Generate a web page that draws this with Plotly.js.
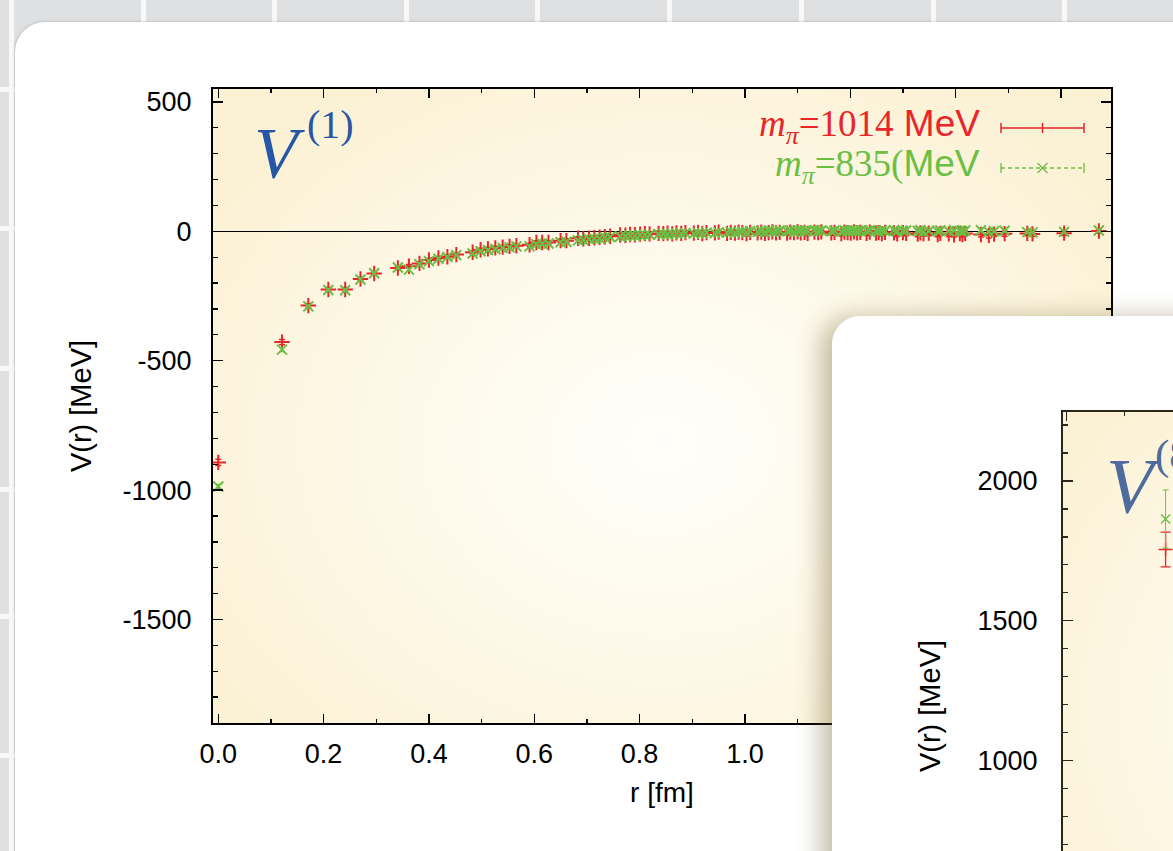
<!DOCTYPE html>
<html><head><meta charset="utf-8">
<script src="https://cdn.plot.ly/plotly-3.0.1.min.js"></script>
<style>
html,body{margin:0;padding:0;width:1173px;height:851px;overflow:hidden;background:#dfe0e2;}
.vl{position:absolute;top:0;width:5px;height:851px;background:#f8f8f9;}
.hl{position:absolute;left:0;height:5px;width:1173px;background:#f8f8f9;}
#card1{position:absolute;left:15px;top:22px;width:1200px;height:900px;background:#fff;border-radius:30px;box-shadow:0 0 3px rgba(0,0,0,0.25);}
#bg1{position:absolute;left:213px;top:89px;width:898px;height:634px;background:radial-gradient(ellipse 62% 70% at 50% 56%, #fffefa 0%, #fefaec 40%, #fbf1d4 100%);}
#plot1{position:absolute;left:0;top:0;width:1173px;height:851px;}
#card2{position:absolute;left:832px;top:316px;width:600px;height:700px;background:#fff;border-radius:28px;box-shadow:-10px 2px 26px rgba(110,90,40,0.42);overflow:hidden;}
#bg2{position:absolute;left:231px;top:96px;width:600px;height:588px;background:radial-gradient(ellipse 70% 70% at 55% 50%, #fffefa 0%, #fefaec 40%, #fbf1d4 100%);}
#plot2{position:absolute;left:0;top:0;width:900px;height:800px;}
</style></head>
<body>
<div class="vl" style="left:9px"></div><div class="vl" style="left:141px"></div><div class="vl" style="left:272px"></div>
<div class="vl" style="left:404px"></div><div class="vl" style="left:535px"></div><div class="vl" style="left:667px"></div>
<div class="vl" style="left:799px"></div><div class="vl" style="left:931px"></div><div class="vl" style="left:1062px"></div>
<div class="hl" style="top:87px"></div><div class="hl" style="top:226px"></div><div class="hl" style="top:366px"></div>
<div class="hl" style="top:487px"></div><div class="hl" style="top:614px"></div><div class="hl" style="top:753px"></div>
<div id="card1"></div>
<div id="bg1"></div>
<div id="plot1"></div>
<div id="card2"><div id="bg2"></div><div id="plot2"></div></div>
<script>
// ---------- data: panel V^(1) ----------
const rVals = [
0.000,0.121,0.171,0.209,0.241,0.270,0.296,0.341,0.362,0.382,
0.400,0.418,0.435,0.452,0.483,0.498,0.512,0.526,0.540,0.553,
0.566,0.591,0.604,0.615,0.627,0.650,0.661,0.683,0.693,0.704,
0.714,0.724,0.734,0.744,0.763,0.773,0.782,0.791,0.801,0.810,
0.819,0.836,0.845,0.853,0.862,0.870,0.879,0.887,0.903,0.911,
0.919,0.927,0.943,0.950,0.966,0.973,0.981,0.988,0.995,1.003,
1.010,1.024,1.031,1.038,1.045,1.052,1.059,1.066,1.080,1.086,
1.093,1.100,1.106,1.113,1.119,1.132,1.139,1.145,1.164,1.170,
1.183,1.189,1.195,1.201,1.207,1.213,1.219,1.231,1.237,1.249,
1.254,1.260,1.266,1.283,1.289,1.300,1.306,1.328,1.333,1.339,
1.349,1.366,1.371,1.387,1.397,1.408,1.413,1.418,1.448,1.463,
1.473,1.493,1.536,1.546,1.606,1.672];
const vRed1014 = [
-893,-428,-287,-225,-225,-184,-163,-142,-135,-124,
-111,-103,-98,-90,-81,-71,-68,-64,-61,-58,
-56,-52,-43,-43,-43,-36,-36,-27,-29,-27,
-25,-23,-21,-19,-14,-15,-12,-13,-11,-9,
-10,-8,-9,-7,-10,-6,-8,-5,-7,-4,
-9,-5,-6,-3,-8,-4,-7,-3,-5,-9,
-4,-6,-3,-8,-5,-2,-6,-4,-7,-3,
-5,-2,-6,-4,-8,-3,-5,-2,-6,-4,
-9,-3,-5,-7,-2,-6,-4,-8,-3,-7,
-5,-9,-4,-6,-10,-5,-8,-11,-6,-9,
-7,-12,-8,-10,-13,-9,-12,-8,-12,-15,
-11,-9,-8,-10,-7,1];
const eRed1014 = [
12,10,8,8,8,7,7,7,7,6,
6,6,6,6,6,6,6,6,6,6,
6,6,7,6,7,6,7,6,7,6,
7,6,7,6,7,8,6,7,8,6,
7,8,6,7,8,6,7,8,6,7,
8,7,6,8,7,6,8,7,6,9,
7,8,6,9,7,8,6,9,7,8,
6,9,7,8,9,7,8,6,9,7,
9,8,7,9,8,7,9,8,7,9,
8,9,7,9,10,8,9,10,8,9,
10,9,8,10,9,8,10,9,10,11,
9,10,9,10,9,8];
const vGreen835 = [
-986,-457,-290,-227,-228,-186,-162,-140,-148,-127,
-115,-106,-99,-92,-86,-77,-72,-69,-64,-62,
-58,-58,-50,-48,-47,-42,-40,-35,-33,-30,
-29,-28,-24,-22,-20,-18,-16,-17,-14,-14,
-13,-11,-10,-12,-9,-8,-10,-7,-9,-6,
-8,-5,-7,-4,-5,-2,-6,-3,-1,-4,
0,-2,1,-3,2,-1,1,3,0,2,
-2,1,3,0,2,4,1,3,0,2,
-1,3,1,4,2,0,3,1,4,2,
-1,3,1,4,0,2,3,1,4,-2,
2,0,3,1,4,2,-1,3,4,-2,
0,2,-3,-4,-2,3];
const eGreen835 = [
8,8,6,6,6,5,5,5,5,5,
5,5,5,5,5,5,5,5,5,5,
5,5,5,5,5,5,5,5,5,5,
5,5,5,5,5,5,5,5,5,5,
5,5,5,5,5,5,5,5,5,5,
5,5,5,5,5,5,5,5,5,5,
5,5,5,5,5,5,5,5,5,5,
5,5,5,5,5,5,5,5,5,5,
5,5,5,5,5,5,5,5,5,5,
5,5,5,5,5,5,5,5,5,5,
5,5,5,5,5,5,5,5,5,5,
5,5,5,5,5,5];
const xTickVals = [0,0.2,0.4,0.6,0.8,1.0,1.2,1.4,1.6];
const xTickText = ['0.0','0.2','0.4','0.6','0.8','1.0','1.2','1.4','1.6'];
const yTickVals = [-1500,-1000,-500,0,500];
const yTickText = ['-1500','-1000','-500','0','500'];
const seriesMass = ['1014', '835('];   // legend: m_π=1014 MeV, m_π=835(MeV

// ---------- data: panel V^(8) (partly visible) ----------
const r8 = [0.172];
const v8Red = [1755];
const e8Red = [62];
const v8Green = [1864];
const e8Green = [104];
const y2TickVals = [1000,1500,2000];
const y2TickText = ['1000','1500','2000'];

const RED = '#e8262a', GREEN = '#6cbf45', BLUE = '#2656a5';
const SANS = 'Liberation Sans, Arial, Helvetica, sans-serif';
const SERIF = 'Liberation Serif, Times New Roman, serif';

// plot 1 geometry (page px)
const L1 = 213, T1 = 89, W1 = 898, H1 = 634;
const px1 = p => (p - L1) / W1;
const py1 = p => (T1 + H1 - p) / H1;

function axisStyle(extra) {
  return Object.assign({
    ticks: 'inside', tickcolor: '#000', tickwidth: 1.3,
    showline: true, linecolor: '#000', linewidth: 2,
    mirror: 'allticks', showgrid: false, zeroline: false,
    tickfont: {family: SANS, size: 27, color: '#000'}
  }, extra);
}

const trRed = {
  x: rVals, y: vRed1014, type: 'scatter', mode: 'markers', name: 'mπ=1014 MeV',
  marker: {symbol: 'cross-thin-open', size: 11, color: RED, line: {color: RED, width: 2}},
  error_y: {type: 'data', array: eRed1014, visible: true, color: RED, thickness: 1.5, width: 3}
};
const trGreen = {
  x: rVals, y: vGreen835, type: 'scatter', mode: 'markers', name: 'mπ=835(MeV',
  marker: {symbol: 'x-thin-open', size: 10, color: GREEN, line: {color: GREEN, width: 2}},
  error_y: {type: 'data', array: eGreen835, visible: true, color: GREEN, thickness: 1.2, width: 2}
};

// legend samples (paper coords)
const lgX0 = px1(1001), lgX1 = px1(1084), lgXm = px1(1042.5);
const lgYr = py1(128), lgYg = py1(168);
const cap = 5 / H1, mk = 5 / W1;
const shapes1 = [
  {type:'line', xref:'paper', yref:'paper', x0:lgX0, x1:lgX1, y0:lgYr, y1:lgYr, line:{color:RED, width:1.5}},
  {type:'line', xref:'paper', yref:'paper', x0:lgX0, x1:lgX0, y0:lgYr-cap, y1:lgYr+cap, line:{color:RED, width:1.5}},
  {type:'line', xref:'paper', yref:'paper', x0:lgX1, x1:lgX1, y0:lgYr-cap, y1:lgYr+cap, line:{color:RED, width:1.5}},
  {type:'line', xref:'paper', yref:'paper', x0:lgXm, x1:lgXm, y0:lgYr-cap, y1:lgYr+cap, line:{color:RED, width:1.5}},
  {type:'line', xref:'paper', yref:'paper', x0:lgX0, x1:lgX1, y0:lgYg, y1:lgYg, line:{color:GREEN, width:1.3, dash:'4px,3px'}},
  {type:'line', xref:'paper', yref:'paper', x0:lgX0, x1:lgX0, y0:lgYg-cap, y1:lgYg+cap, line:{color:GREEN, width:1.3}},
  {type:'line', xref:'paper', yref:'paper', x0:lgX1, x1:lgX1, y0:lgYg-cap, y1:lgYg+cap, line:{color:GREEN, width:1.3}},
  {type:'line', xref:'paper', yref:'paper', x0:lgXm-mk, x1:lgXm+mk, y0:lgYg-cap, y1:lgYg+cap, line:{color:GREEN, width:1.3}},
  {type:'line', xref:'paper', yref:'paper', x0:lgXm-mk, x1:lgXm+mk, y0:lgYg+cap, y1:lgYg-cap, line:{color:GREEN, width:1.3}}
];

const legText = mass =>
  '<i>m</i><sub><i>π</i></sub><span style="font-family:Liberation Serif">=' + mass +
  '</span><span style="font-family:Liberation Sans">' + (mass.endsWith('(') ? '' : ' ') + 'MeV</span>';

const annotations1 = [
  {xref:'paper', yref:'paper', x:px1(252), y:py1(153), xanchor:'left', yanchor:'middle', showarrow:false,
   text:'<i>V</i>', font:{family:SERIF, size:72, color:BLUE}},
  {xref:'paper', yref:'paper', x:px1(305), y:py1(125), xanchor:'left', yanchor:'middle', showarrow:false,
   text:'(1)', font:{family:SERIF, size:40, color:BLUE}},
  {xref:'paper', yref:'paper', x:px1(982), y:py1(127), xanchor:'right', yanchor:'middle', showarrow:false,
   text:legText(seriesMass[0]), font:{family:SERIF, size:37, color:RED}},
  {xref:'paper', yref:'paper', x:px1(982), y:py1(166), xanchor:'right', yanchor:'middle', showarrow:false,
   text:legText(seriesMass[1]), font:{family:SERIF, size:37, color:GREEN}}
];

const layout1 = {
  width: 1173, height: 851,
  margin: {l: L1, r: 1173 - L1 - W1, t: T1, b: 851 - T1 - H1, pad: 0},
  paper_bgcolor: 'rgba(0,0,0,0)', plot_bgcolor: 'rgba(0,0,0,0)',
  showlegend: false,
  font: {family: SANS, size: 27, color: '#000'},
  xaxis: axisStyle({
    range: [-0.01, 1.695], tickmode: 'array', tickvals: xTickVals, ticktext: xTickText,
    ticklen: 9, ticklabelstandoff: 6,
    minor: {tickmode: 'linear', tick0: 0, dtick: 0.1, ticks: 'inside', ticklen: 4, tickwidth: 1.3, tickcolor: '#000', showgrid: false},
    title: {text: 'r [fm]', font: {family: SANS, size: 28, color: '#000'}, standoff: 14}
  }),
  yaxis: axisStyle({
    range: [-1900, 550], tickmode: 'array', tickvals: yTickVals, ticktext: yTickText,
    ticklen: 10, ticklabelstandoff: 14,
    zeroline: true, zerolinecolor: '#000', zerolinewidth: 1.6,
    minor: {tickmode: 'linear', tick0: 0, dtick: 100, ticks: 'inside', ticklen: 5, tickwidth: 1.3, tickcolor: '#000', showgrid: false},
    title: {text: 'V(r) [MeV]', font: {family: SANS, size: 29, color: '#000'}, standoff: 22}
  }),
  shapes: shapes1,
  annotations: annotations1
};

Plotly.newPlot('plot1', [trRed, trGreen], layout1, {staticPlot: true, displayModeBar: false});

// ---------- plot 2 ----------
const L2 = 231, T2 = 96, W2 = 600, H2 = 588;   // inside card2 (card2 at page 832,316)
const px2 = p => (p - 832 - L2) / W2;
const py2 = p => (316 + T2 + H2 - p) / H2;
const trRed8 = {
  x: r8, y: v8Red, type: 'scatter', mode: 'markers',
  marker: {symbol: 'cross-thin-open', size: 10, color: RED, line: {color: RED, width: 1.4}},
  error_y: {type: 'data', array: e8Red, visible: true, color: RED, thickness: 1.3, width: 5}
};
const trGreen8 = {
  x: r8, y: v8Green, type: 'scatter', mode: 'markers',
  marker: {symbol: 'x-thin-open', size: 9, color: GREEN, line: {color: GREEN, width: 1.4}},
  error_y: {type: 'data', array: e8Green, visible: true, color: GREEN, thickness: 1, width: 3}
};
const layout2 = {
  width: 900, height: 800,
  margin: {l: L2, r: 900 - L2 - W2, t: T2, b: 800 - T2 - H2, pad: 0},
  paper_bgcolor: 'rgba(0,0,0,0)', plot_bgcolor: 'rgba(0,0,0,0)',
  showlegend: false,
  font: {family: SANS, size: 27, color: '#000'},
  xaxis: axisStyle({
    range: [-0.0064, 1.037], tickmode: 'array', tickvals: xTickVals, ticktext: xTickText,
    showticklabels: false,
    ticklen: 9, linecolor: '#2a2618', tickcolor: '#2a2618',
    minor: {tickmode: 'linear', tick0: 0, dtick: 0.1, ticks: 'inside', ticklen: 4, tickwidth: 1.3, tickcolor: '#2a2618', showgrid: false}
  }),
  yaxis: axisStyle({
    range: [142.5, 2247], tickmode: 'array', tickvals: y2TickVals, ticktext: y2TickText,
    ticklen: 10, ticklabelstandoff: 18, linecolor: '#2a2618', tickcolor: '#2a2618',
    minor: {tickmode: 'linear', tick0: 0, dtick: 100, ticks: 'inside', ticklen: 5, tickwidth: 1.3, tickcolor: '#2a2618', showgrid: false},
    title: {text: 'V(r) [MeV]', font: {family: SANS, size: 29, color: '#000'}, standoff: 28}
  }),
  annotations: [
    {xref:'paper', yref:'paper', x:px2(1104), y:py2(485), xanchor:'left', yanchor:'middle', showarrow:false,
     text:'<i>V</i>', font:{family:SERIF, size:78, color:'#4d6b9c'}},
    {xref:'paper', yref:'paper', x:px2(1153), y:py2(455), xanchor:'left', yanchor:'middle', showarrow:false,
     text:'(8)', font:{family:SERIF, size:43, color:'#4d6b9c'}}
  ]
};
Plotly.newPlot('plot2', [trRed8, trGreen8], layout2, {staticPlot: true, displayModeBar: false});
</script>
</body></html>
